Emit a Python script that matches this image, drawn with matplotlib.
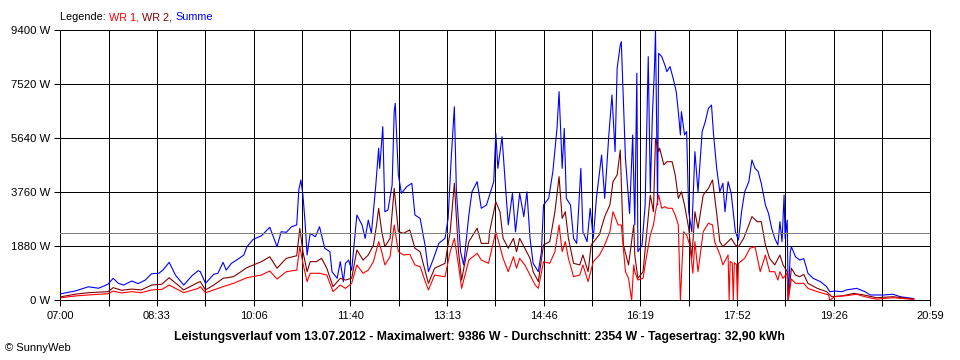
import matplotlib
matplotlib.use("Agg")
import matplotlib.pyplot as plt
import numpy as np

# ---- data (minutes since midnight, watts) ----
sum_t = [421, 434, 447, 457, 466, 471, 476, 481, 489, 495, 502, 508, 515, 519, 525, 531, 539, 547, 553,
         555, 560, 568, 572, 577, 580, 585, 590, 597, 600, 606, 614, 622, 629, 633, 638, 643, 648, 650, 652,
         654, 656, 658, 661, 666, 670, 675, 680, 682, 687, 690, 693,
         695, 698, 701, 706, 711, 714, 717, 720, 724, 727, 728, 731, 733, 736, 740, 742, 743, 746, 749, 754,
         759, 762, 767, 772, 775, 780, 785, 791, 794, 797, 800, 802, 806, 809, 814, 817, 822, 826, 831,
         834, 838, 840, 842, 846, 849, 852, 856, 859, 863, 867, 870, 873, 876, 881, 884, 886, 891, 895, 899,
         901, 904, 906, 908, 912, 915, 918, 922, 924, 928, 931, 934, 937, 942, 945, 949, 952, 955, 957, 960,
         961, 965, 969, 972,
         974, 976, 977, 981, 984, 987, 989, 991, 993, 994, 996, 997, 1000, 1003, 1005, 1008, 1011, 1014,
         1016, 1018, 1019, 1022, 1024, 1026, 1029, 1032, 1035, 1039, 1042, 1045, 1048, 1050, 1053, 1056,
         1059, 1061, 1064, 1067, 1071, 1074, 1077, 1080, 1084, 1087, 1090, 1093, 1096, 1100, 1103, 1106,
         1109, 1112,
         1114, 1116, 1118, 1119, 1121, 1122, 1124, 1125, 1129, 1133, 1137, 1141, 1146, 1153, 1159, 1162,
         1167, 1174, 1178, 1188, 1196, 1201, 1214, 1223, 1230, 1243]
sum_w = [230, 320, 470, 420, 560, 765, 590, 530, 670, 580, 705, 925, 940, 1050, 1320, 880, 530, 855, 1030,
         995, 590, 905, 940, 1320, 1050, 1285, 1400, 1575, 1865, 2120, 2245, 2540, 1865, 2385, 2365, 2560,
         2620, 3835, 4185, 3660, 2735, 1575, 2330, 2210, 2560, 1810, 1690, 995, 765, 1345, 650,
         1285, 1400, 1050, 2965, 2620, 2155, 2790, 2330, 3895, 5285, 4590, 6040, 3080, 3140, 4010, 6560,
         6850, 4360, 3720, 3950, 4070, 2965, 2850, 1865, 995, 1460, 1980, 2155, 2850, 4940, 6730, 3775,
         1690, 1230, 2965, 3775, 4125, 3200, 3315,
         3660, 4125, 5810, 4590, 5690, 4125, 2620, 3720, 2385, 3720, 2910, 3775, 2155, 1285, 995, 1690,
         3315, 3545, 4475, 5980, 7255, 4590, 5980, 3545, 3315, 2155, 1980, 4590, 2385, 2040, 3200, 2155,
         3545, 5055, 3545, 5750, 7140, 5170, 8070, 8880, 8995, 4940, 3020, 5750,
         2620, 7895, 1690, 1925, 3315, 8475, 3775, 6445, 8070, 9386, 3315, 8590, 8475, 8185, 7950, 8130,
         7720, 7255, 6560, 5750, 6560, 5750, 5870, 3080, 2385, 5170, 3775, 5870, 6210, 6675, 6790, 5750,
         4590, 3775, 4070, 3080, 4125, 3720, 2385, 2095, 3080, 3775, 4125, 4880, 4590, 4475, 4070, 3315,
         3020, 2505, 2155, 1925,
         2735, 2040, 3660, 2155, 2790, 0, 1690, 1865, 1515, 1400, 1450, 940, 765, 650, 475, 300,
         320, 300, 360, 415, 300, 185, 185, 210, 125, 60]

wr2_t = [421, 434, 447, 466, 471, 479, 489, 498, 508, 518, 525, 539, 553,
         555, 560, 568, 577, 587, 600, 614, 622, 629, 638, 648, 651, 654, 658, 661, 667, 672, 677, 683, 690,
         695, 701, 706, 712, 717, 722, 725, 727, 730, 733, 738, 742, 746, 751, 757, 762, 767, 772, 775, 781,
         791, 796, 800, 804, 807, 814, 822, 826, 833,
         834, 840, 844, 847, 852, 857, 860, 863, 868, 873, 876, 881, 886, 892, 897, 901, 904, 907, 910, 915,
         921, 924, 929, 932, 940, 945, 950, 953, 957, 960, 963, 968, 973,
         974, 977, 982, 985, 989, 992, 994, 997, 998, 1002, 1005, 1010, 1013, 1016, 1019, 1022, 1026, 1029,
         1032, 1035, 1040, 1045, 1049, 1053, 1056, 1059, 1064, 1067, 1071, 1074, 1079, 1084, 1087, 1092,
         1096, 1100, 1104, 1109,
         1114, 1117, 1121, 1122, 1125, 1129, 1133, 1137, 1141, 1150, 1159, 1164, 1175, 1185, 1195, 1207,
         1223, 1243]
wr2_w = [125, 210, 265, 300, 440, 350, 390, 360, 530, 560, 785, 360, 625,
         650, 360, 530, 765, 820, 1135, 1345, 1515, 1115, 1460, 1550, 2505, 1690, 995, 1345, 1345, 1460,
         1115, 475, 765,
         705, 765, 1750, 1400, 1575, 1925, 2620, 3200, 2385, 1865, 2155, 3895, 2385, 2330, 2445, 1810, 1690,
         995, 590, 1115, 1285, 2385, 4070, 1690, 705, 2040, 2505, 1980, 1980,
         2385, 3430, 3080, 2155, 1810, 2155, 1690, 2155, 1810, 1460, 995, 650, 1925, 2040, 3080, 4300, 2850,
         3080, 2155, 1285, 1230, 1575, 995, 1925, 2295, 2910, 3315, 4125, 4360, 5230, 1925, 1230, 2620,
         1575, 765, 995, 2155, 3660, 3080, 5635, 5170, 5290, 4710, 4820, 4820, 4360, 3545, 3775, 3315, 2505,
         1460, 3080, 2505, 3660, 3890, 4185, 3020, 2040, 1865, 2040, 2155, 1925, 1865, 2155, 2620, 2910,
         2735, 2735, 1925, 1460, 1230,
         1575, 1230, 995, 0, 1115, 880, 820, 900, 590, 415, 300, 125, 160, 240, 185, 90,
         125, 40]

wr1_t = [421, 434, 447, 466, 471, 479, 489, 498, 508, 518, 525, 539, 553,
         555, 560, 568, 577, 587, 600, 614, 622, 629, 638, 648, 651, 654, 658, 661, 670, 677, 683, 690,
         695, 701, 706, 712, 717, 722, 727, 730, 733, 738, 742, 746, 751, 757, 762, 767, 772, 775, 781, 791,
         796, 800, 804, 807, 814, 822, 826, 833,
         834, 840, 844, 847, 852, 857, 860, 863, 868, 873, 878, 881, 886, 892, 897, 901, 904, 907, 910, 915,
         921, 924, 929, 934, 940, 945, 950, 953, 958, 961, 965, 968, 971, 973,
         974, 977, 982, 985, 989, 992, 994, 997, 1000, 1003, 1006, 1010, 1013, 1016, 1018, 1021, 1024, 1027,
         1030, 1032, 1035, 1040, 1045, 1049, 1051, 1056, 1059, 1064, 1065, 1066, 1068, 1069, 1070, 1072,
         1073, 1074, 1080, 1085, 1090, 1095, 1100, 1104, 1109, 1112,
         1114, 1117, 1121, 1122, 1125, 1129, 1137, 1141, 1150, 1161, 1162, 1167, 1178, 1188, 1196, 1207,
         1223, 1243]
wr1_w = [90, 150, 185, 230, 320, 255, 300, 265, 360, 380, 530, 265, 415,
         475, 265, 360, 475, 590, 785, 880, 1020, 740, 995, 1050, 1865, 1285, 650, 940, 940, 880, 300, 530,
         415, 590, 1230, 940, 1050, 1345, 2040, 1690, 1230, 1515, 2620, 1690, 1575, 1600, 1230, 1170, 650,
         360, 880, 820, 1690, 2155, 1230, 415, 1400, 1635, 1400, 1285,
         1460, 2385, 1865, 1460, 995, 1515, 1115, 1460, 1230, 880, 530, 415, 1345, 1285, 1690, 2620, 1690,
         2040, 1460, 820, 880, 1230, 650, 1345, 1575, 1925, 2385, 3080, 2620, 2620, 995, 765, 0, 1230,
         995, 705, 765, 1460, 2270, 2620, 3080, 3660, 3200, 3255, 3200, 3200, 2965, 2620, 0, 2385, 2270,
         1925, 940, 2040, 995, 2385, 2680, 2620, 2040, 1600, 1230, 1575, 0, 1350, 1300, 0, 1300, 1250,
         0, 1285, 1460, 1810, 1865, 995, 1575, 995, 995, 705,
         995, 765, 940, 0, 740, 590, 590, 415, 300, 185, 0, 125, 160, 210, 125, 40,
         90, 30]

average_w = 2354
y_ticks = [0, 1880, 3760, 5640, 7520, 9400]
x_labels = ["07:00", "08:33", "10:06", "11:40", "13:13", "14:46", "16:19", "17:52", "19:26", "20:59"]
t_start, t_end = 420, 1259

# ---- figure ----
FONT = "Liberation Sans"
fig = plt.figure(figsize=(9.6, 3.6), dpi=100)
fig.patch.set_facecolor("white")
ax = fig.add_axes([60.3 / 960, 1 - 300.3 / 360, (930.3 - 60.3) / 960, (300.3 - 30.0) / 360])
ax.set_xlim(t_start, t_end)
ax.set_ylim(0, 9400)

lw_grid = 0.6
step = (t_end - t_start) / 18
major = [t_start + 2 * k * step for k in range(10)]
minor = [t_start + (2 * k + 1) * step for k in range(9)]
ax.set_xticks(major)
ax.set_xticklabels(x_labels, fontsize=8, family=FONT)
ax.set_xticks(minor, minor=True)
ax.set_yticks(y_ticks)
ax.set_yticklabels([f"{v} W" for v in y_ticks], fontsize=8.2, family=FONT)
ax.tick_params(axis="both", which="both", length=4, width=0.75, color="black", direction="out")
ax.tick_params(axis="x", which="both", pad=4)
ax.tick_params(axis="y", pad=3)
ax.grid(True, which="both", axis="x", color="black", lw=lw_grid, zorder=1, antialiased=False)
ax.grid(True, which="major", axis="y", color="black", lw=lw_grid, zorder=1, antialiased=False)
ax.set_axisbelow(True)
for s in ax.spines.values():
    s.set_color("black")
    s.set_linewidth(lw_grid)
    s.set_antialiased(False)

lw_data = 0.8
ax.plot(sum_t, sum_w, color="#0000FF", lw=lw_data, zorder=3)
ax.plot(wr2_t, wr2_w, color="#800000", lw=lw_data, zorder=4)
ax.plot(wr1_t, wr1_w, color="#FF0000", lw=lw_data, zorder=5)
ax.axhline(average_w, color="#808080", lw=0.6, zorder=6, antialiased=False)

# legend line at top
parts = [("Legende: ", "black"), ("WR 1, ", "#FF0000"), ("WR 2, ", "#800000"), ("Summe", "#0000FF")]
x = 60.5 / 960
renderer = fig.canvas.get_renderer()
for txt, col in parts:
    t = fig.text(x, 1 - 17 / 360, txt, color=col, fontsize=7.8, family=FONT, va="center", ha="left")
    bb = t.get_window_extent(renderer=renderer)
    x += bb.width / 960

fig.text(479 / 960, 1 - 337 / 360,
         "Leistungsverlauf vom 13.07.2012 - Maximalwert: 9386 W - Durchschnitt: 2354 W - Tagesertrag: 32,90 kWh",
         fontsize=8.8, family=FONT, weight="bold", ha="center", va="center")
fig.text(5 / 960, 1 - 348 / 360, "\u00a9 SunnyWeb", fontsize=8, family=FONT, ha="left", va="center")

fig.savefig("out.png", dpi=100, facecolor="white")
